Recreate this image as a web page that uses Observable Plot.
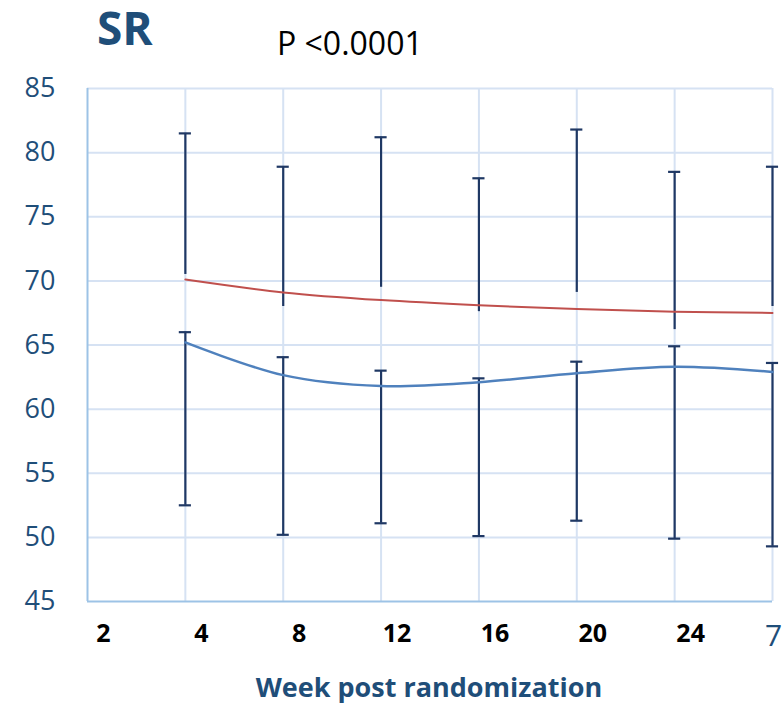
<!DOCTYPE html>
<html>
<head>
<meta charset="utf-8">
<script src="https://cdn.jsdelivr.net/npm/d3@7"></script>
<script src="https://cdn.jsdelivr.net/npm/@observablehq/plot@0.6"></script>
<style>
  html, body { margin: 0; padding: 0; background: #fff; }
  #chart { width: 782px; height: 707px; overflow: hidden; }
</style>
</head>
<body>
<div id="chart"></div>
<script>
// Category positions (0 = "2", 1 = "4", ... 7 = clipped last category)
const positions = [1, 2, 3, 4, 5, 6, 7];
const tickLabels = ["2", "4", "8", "12", "16", "20", "24"];
const tickLabelPositions = [0, 1, 2, 3, 4, 5, 6];
const yTicks = [45, 50, 55, 60, 65, 70, 75, 80, 85];

// Red series (mean) and its upper error bar
const redMean = [70.1, 69.1, 68.5, 68.1, 67.8, 67.6, 67.5];
const redBarLow = [70.5, 68.0, 69.5, 67.6, 69.1, 66.2, 68.0];
const redBarHigh = [81.5, 78.9, 81.2, 78.0, 81.8, 78.5, 78.9];

// Blue series (mean) and its error bar
const blueMean = [65.2, 62.65, 61.8, 62.1, 62.8, 63.3, 62.9];
const blueBarHigh = [66.0, 64.05, 63.0, 62.4, 63.7, 64.9, 63.6];
const blueBarLow = [52.5, 50.2, 51.1, 50.1, 51.3, 49.9, 49.3];

const red = positions.map((x, i) => ({x, y: redMean[i], lo: redBarLow[i], hi: redBarHigh[i]}));
const blue = positions.map((x, i) => ({x, y: blueMean[i], lo: blueBarLow[i], hi: blueBarHigh[i]}));
const ticksX = tickLabels.map((t, i) => ({x: tickLabelPositions[i], t}));

const capHalf = 0.062; // half cap width in category units
const barColor = "#1F3864";
const gridColor = "#D6E2F3";
const axisColor = "#9DC3E6";
const labelColor = "#1F4E79";
const font = "'Open Sans', 'Liberation Sans', sans-serif";

const chart = Plot.plot({
  width: 782,
  height: 707,
  marginLeft: 87,
  marginRight: 10,
  marginTop: 88,
  marginBottom: 106,
  style: {fontFamily: font, background: "white"},
  x: {domain: [0, 7], axis: null},
  y: {domain: [45, 85], axis: null},
  marks: [
    Plot.ruleY(yTicks.filter(d => d > 45), {stroke: gridColor, strokeWidth: 2}),
    Plot.ruleX(positions, {stroke: gridColor, strokeWidth: 2}),
    Plot.ruleY([45], {stroke: axisColor, strokeWidth: 2}),
    Plot.ruleX([0], {stroke: axisColor, strokeWidth: 2}),
    // red upper error bars
    Plot.ruleX(red, {x: "x", y1: "lo", y2: "hi", stroke: barColor, strokeWidth: 2.2}),
    Plot.ruleY(red, {y: "hi", x1: d => d.x - capHalf, x2: d => d.x + capHalf, stroke: barColor, strokeWidth: 2.2}),
    // blue error bars
    Plot.ruleX(blue, {x: "x", y1: "lo", y2: "hi", stroke: barColor, strokeWidth: 2.2}),
    Plot.ruleY(blue, {y: "hi", x1: d => d.x - capHalf, x2: d => d.x + capHalf, stroke: barColor, strokeWidth: 2.2}),
    Plot.ruleY(blue, {y: "lo", x1: d => d.x - capHalf, x2: d => d.x + capHalf, stroke: barColor, strokeWidth: 2.2}),
    // lines
    Plot.line(red, {x: "x", y: "y", curve: "catmull-rom", stroke: "#C0504D", strokeWidth: 2}),
    Plot.line(blue, {x: "x", y: "y", curve: "catmull-rom", stroke: "#4F81BD", strokeWidth: 2.5}),
    // y tick labels
    Plot.text(yTicks, {y: d => d, frameAnchor: "left", dx: -32, textAnchor: "end", text: d => String(d), fill: labelColor, fontSize: 27}),
    // x tick labels (bold overlay)
    Plot.text(ticksX, {x: "x", text: "t", frameAnchor: "bottom", dx: 16, dy: 40, fontSize: 25, fontWeight: "bold", fill: "black"}),
    // clipped last category label
    Plot.text(["7"], {x: 7, text: d => d, frameAnchor: "bottom", dx: 1, dy: 44, fontSize: 30, fill: labelColor})
  ]
});

const svg = d3.select(chart);
svg.append("text").attr("x", 97).attr("y", 45).attr("text-anchor", "start").attr("font-family", font).attr("font-size", 46)
  .attr("font-weight", "bold").attr("fill", labelColor).text("SR");
svg.append("text").attr("x", 277).attr("y", 55).attr("text-anchor", "start").attr("font-family", font).attr("font-size", 32)
  .attr("fill", "black").text("P <0.0001");
svg.append("text").attr("x", 429).attr("y", 697).attr("text-anchor", "middle").attr("font-family", font)
  .attr("font-size", 27).attr("font-weight", "bold").attr("fill", labelColor).text("Week post randomization");

document.getElementById("chart").appendChild(chart);
</script>
</body>
</html>
